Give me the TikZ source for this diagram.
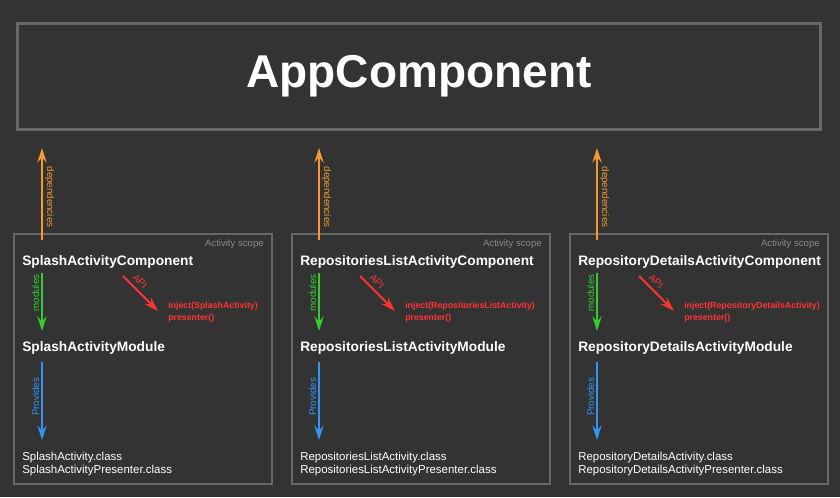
\documentclass[tikz,border=0pt]{standalone}
\usepackage{fontspec}
\setmainfont{Liberation Sans}
\usetikzlibrary{arrows.meta}
\definecolor{Canvas}{HTML}{333333}
\definecolor{Frame}{HTML}{686868}
\definecolor{ScopeGray}{HTML}{8A8A8A}
\definecolor{DepOrange}{HTML}{F39A32}
\definecolor{ModGreen}{HTML}{33CC33}
\definecolor{ApiRed}{HTML}{FF3333}
\definecolor{ProvBlue}{HTML}{3394F5}

\begin{document}
\begin{tikzpicture}[
      x=0.75pt, y=-0.75pt,
      appbox/.style={
        draw=Frame, line width=2.2pt, fill=Canvas,
        minimum width=602.25pt, minimum height=79.5pt,
        text=white, font=\fontsize{34.5}{40}\selectfont\bfseries
      },
      scopebox/.style={
        draw=Frame, line width=2.2pt, inner sep=0pt,
        minimum width=193.5pt, minimum height=187.5pt
      },
      scopelbl/.style={text=ScopeGray, inner sep=0pt, font=\fontsize{7.2}{9}\selectfont},
      title/.style={text=white, inner sep=0pt, font=\fontsize{10.3}{12}\selectfont\bfseries},
      apitxt/.style={text=ApiRed, inner sep=0pt, align=left, font=\fontsize{6.6}{9}\selectfont\bfseries},
      classtxt/.style={text=white, inner sep=0pt, align=left, font=\fontsize{8.6}{9.75}\selectfont},
      arrlbl/.style={inner sep=0pt, font=\fontsize{7.3}{9}\selectfont},
      arr/.style={-{Stealth[length=11pt, width=7pt, inset=4pt]}, line width=1.5pt}
    ]
      \fill[Canvas] (0,0) rectangle (840,497);
      \useasboundingbox (0,0) rectangle (840,497);
      \node[appbox] (app) at (419,76.5) {AppComponent};
      \foreach \i/\bx/\ax/\rx/\nm in {1/11/42/123/Splash, 2/289/319/360/RepositoriesList, 3/567/597/639/RepositoryDetails}{
        \node[scopebox, anchor=north west] (scope\i) at (\bx+1.5,232.5) {};
        \node[scopelbl, anchor=base east] (lbl\i) at (\bx+253,246.5) {Activity scope};
        \node[title, anchor=base west] (comp\i) at (\bx+11,265) {\nm ActivityComponent};
        \node[title, anchor=base west] (mod\i) at (\bx+11,351) {\nm ActivityModule};
        % base of a two-line node = last line
        \node[apitxt, anchor=base west] (api\i) at (\rx+45,320.5) {inject(\nm Activity)\\presenter()};
        \node[classtxt, anchor=base west] (cls\i) at (\bx+11,473) {\nm Activity.class\\\nm ActivityPresenter.class};
        % arrow ends
        \coordinate (dep\i) at (\ax,240);
        \coordinate (use\i) at (\ax,148);
        \coordinate (mods\i) at (\ax,273);
        \coordinate (mode\i) at (\ax,331);
        \coordinate (apis\i) at (\rx,276);
        \coordinate (apie\i) at (\rx+35,311);
        \coordinate (provs\i) at (\ax,362);
        \coordinate (prove\i) at (\ax,440);
        \draw[arr, DepOrange] (dep\i) -- (use\i);
        \draw[arr, ModGreen] (mods\i) -- (mode\i);
        \draw[arr, ApiRed] (apis\i) -- node[arrlbl, text=ApiRed, pos=.32, sloped, above=3pt] {API} (apie\i);
        \draw[arr, ProvBlue] (provs\i) -- (prove\i);
        \node[arrlbl, text=DepOrange, rotate=-90, anchor=base] at (\ax+5,197) {dependencies};
        \node[arrlbl, text=ModGreen, rotate=90, anchor=base] at (\ax-3,293) {modules};
        \node[arrlbl, text=ProvBlue, rotate=90, anchor=base] at (\ax-3,397) {Provides};
      }
    \end{tikzpicture}
\end{document}
